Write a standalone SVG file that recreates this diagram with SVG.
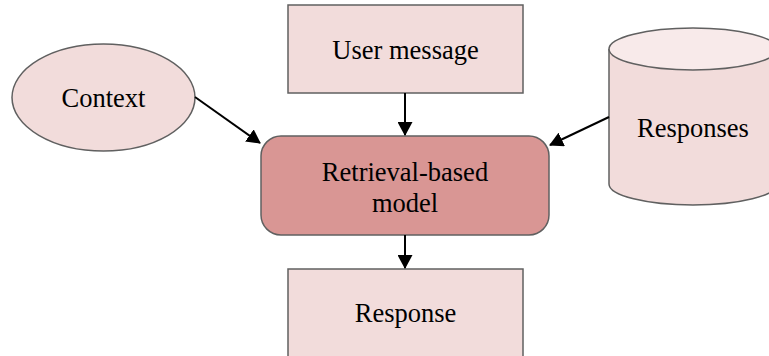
<svg xmlns="http://www.w3.org/2000/svg" width="769" height="356" viewBox="0 0 769 356">
<defs>
<marker id="ah" markerWidth="14" markerHeight="15" viewBox="0 0 14 15" refX="13" refY="7.5" orient="auto" markerUnits="userSpaceOnUse">
<path d="M0,0 L14,7.5 L0,15 Z" fill="#000"/>
</marker>
<style>
.box{fill:#f2dcdb;stroke:#606060;stroke-width:1.5}
.model{fill:#d99694;stroke:#606060;stroke-width:1.5}
.t{font-family:"Liberation Serif","Times New Roman","DejaVu Serif",serif;font-size:26.5px;fill:#000;text-anchor:middle}
.c{stroke:#000;stroke-width:2;fill:none;marker-end:url(#ah)}
</style>
</defs>
<rect width="769" height="356" fill="#fff"/>
<g id="user-message">
<rect class="box" x="288" y="5" width="235" height="88"/>
<text class="t" x="405.5" y="59">User message</text>
</g>
<g id="context">
<ellipse class="box" cx="103.5" cy="97.5" rx="91.5" ry="53.5"/>
<text class="t" x="103.5" y="107">Context</text>
</g>
<g id="responses">
<path class="box" d="M609,49 L609,184 A84,21 0 0 0 777,184 L777,49"/>
<ellipse cx="693" cy="49" rx="84" ry="21" fill="#f8eaea" stroke="#606060" stroke-width="1.5"/>
<text class="t" x="693" y="137">Responses</text>
</g>
<g id="model">
<rect class="model" x="261" y="136" width="288" height="99" rx="20" ry="20"/>
<text class="t" x="405" y="181">Retrieval-based</text>
<text class="t" x="405" y="212">model</text>
</g>
<g id="response">
<rect class="box" x="288" y="269" width="235" height="92"/>
<text class="t" x="405.5" y="322">Response</text>
</g>
<g id="connectors">
<line class="c" x1="405" y1="93" x2="405" y2="135"/>
<line class="c" x1="195" y1="97" x2="260" y2="143"/>
<line class="c" x1="609" y1="117" x2="550" y2="145"/>
<line class="c" x1="405" y1="235" x2="405" y2="268"/>
</g>
</svg>
